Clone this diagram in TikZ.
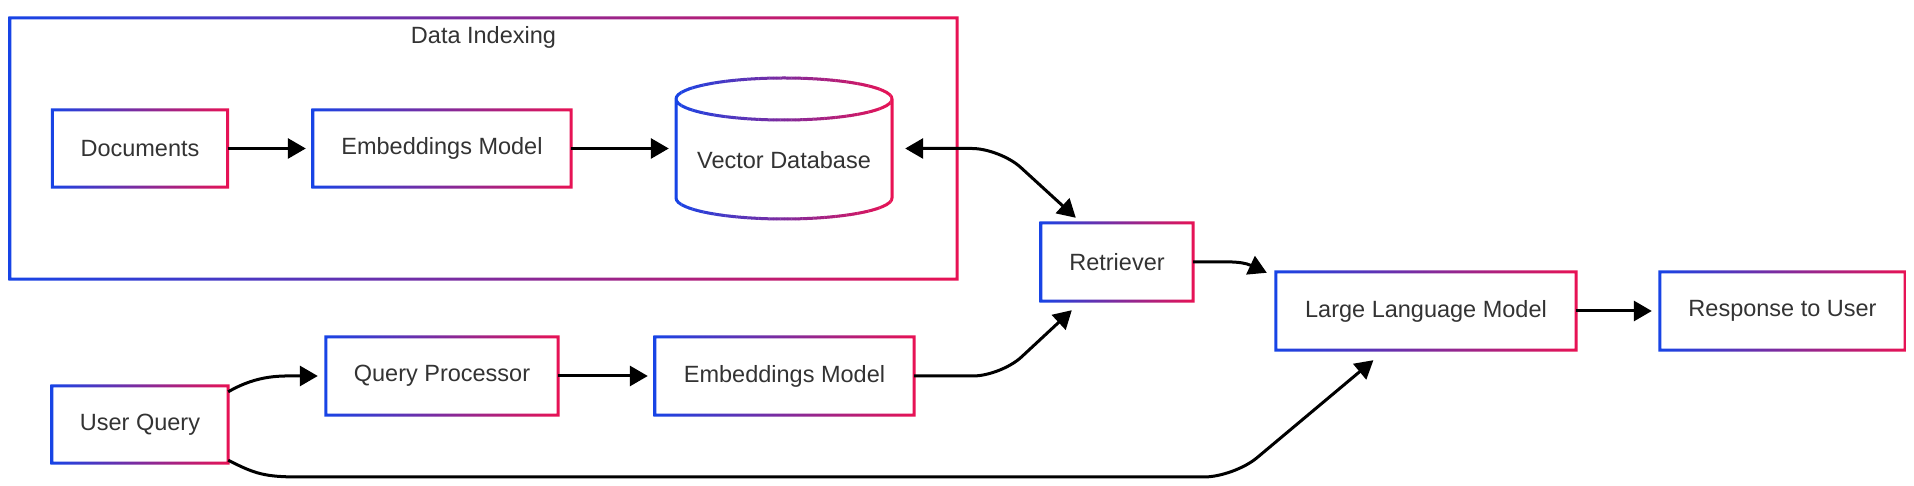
\documentclass[tikz,border=0pt]{standalone}
\usepackage{fontspec}
\setmainfont{Liberation Sans}
\usetikzlibrary{arrows.meta,calc}
\definecolor{cB}{RGB}{23,68,230}
\definecolor{cR}{RGB}{232,18,84}
\definecolor{txtc}{HTML}{333333}
\newcommand\gradrect[1]{%
  \shade[left color=cB,right color=cR,even odd rule]
    ([shift={(-1.5pt,-1.5pt)}]#1.south west) rectangle ([shift={(1.5pt,1.5pt)}]#1.north east)
    ([shift={(1.5pt,1.5pt)}]#1.south west) rectangle ([shift={(-1.5pt,-1.5pt)}]#1.north east);}
\begin{document}
\begin{tikzpicture}[x=1pt,y=1pt,
  box/.style={rectangle, draw=none, inner sep=0pt, text=txtc,
    font=\fontsize{23.5}{28}\selectfont},
  lbl/.style={inner sep=0pt, text=txtc, font=\fontsize{23.5}{28}\selectfont},
  arr/.style={draw=black, line width=3pt, line join=round,
    -{Triangle[length=18pt,width=20pt]}},
  darr/.style={draw=black, line width=3pt, line join=round,
    {Triangle[length=18pt,width=20pt]}-{Triangle[length=18pt,width=20pt]}}]
\fill[white] (0,0) rectangle (1914,486);
\useasboundingbox (0,0) rectangle (1914,486);

% container
\node[box, minimum width=947pt, minimum height=261pt] (idx) at (483.5,337.5) {};
\gradrect{idx}
\node[lbl] (idxtitle) at (483.5,449) {Data Indexing};

% nodes
\node[box, minimum width=175pt, minimum height=77pt] (docs) at (140,337.5) {Documents};
\node[box, minimum width=258pt, minimum height=77pt] (emb1) at (442,337.5) {Embeddings Model};
\node[box, minimum width=216pt, minimum height=141pt] (db) at (784,337.5) {};
\node[box, minimum width=152pt, minimum height=78pt] (ret) at (1117,224) {Retriever};
\node[box, minimum width=300pt, minimum height=78pt] (llm) at (1426,175) {Large Language Model};
\node[box, minimum width=245pt, minimum height=78pt] (resp) at (1782.5,175) {Response to User};
\node[box, minimum width=176pt, minimum height=77pt] (uq) at (140,61.5) {User Query};
\node[box, minimum width=232pt, minimum height=78pt] (qp) at (442,110) {Query Processor};
\node[box, minimum width=259pt, minimum height=78pt] (emb2) at (784.5,110) {Embeddings Model};

\foreach \n in {docs,emb1,ret,llm,resp,uq,qp,emb2} {\gradrect{\n}}

% cylinder with gradient stroke
\foreach \i in {0,...,59} {
  \pgfmathsetmacro\p{100*\i/59}
  \colorlet{cc}{cR!\p!cB}
  \begin{scope}
    \clip (674+\i*220/60,260) rectangle (674.4+\i*220/60+220/60,415);
    \draw[cc, line width=3pt]
      (676,387) arc[start angle=180,end angle=-180,x radius=108,y radius=21]
      (676,387) -- (676,288) arc[start angle=180,end angle=360,x radius=108,y radius=21] -- (892,387);
  \end{scope}
}
\node[lbl] (dblabel) at (784,326) {Vector Database};

% connectors
\draw[arr] (docs.east) -- ([xshift=-7pt]emb1.west);
\draw[arr] (emb1.east) -- ([xshift=-7pt]db.west);
\draw[darr, rounded corners=28pt] ([xshift=13pt]db.east) -- (1000,337.5) -- ([shift={(35pt,5pt)}]ret.north west);
\draw[arr] (ret.east) to[out=0,in=155] ([shift={(-9pt,-1pt)}]llm.north west);
\draw[arr] (llm.east) -- ([xshift=-8pt]resp.west);
\draw[arr] ([yshift=-6pt]uq.north east) to[out=30,in=180] ([xshift=-8pt]qp.west);
\draw[arr] (qp.east) -- ([xshift=-7pt]emb2.west);
\draw[arr, rounded corners=28pt] (emb2.east) -- (1001,110) -- ([shift={(31pt,-9pt)}]ret.south west);
\draw[arr] ([yshift=3pt]uq.south east) .. controls (255,12) and (265,9) .. (300,9)
  {[rounded corners=30pt] -- (1234,9) -- ([shift={(97.6pt,-10pt)}]llm.south west)};
\end{tikzpicture}
\end{document}
